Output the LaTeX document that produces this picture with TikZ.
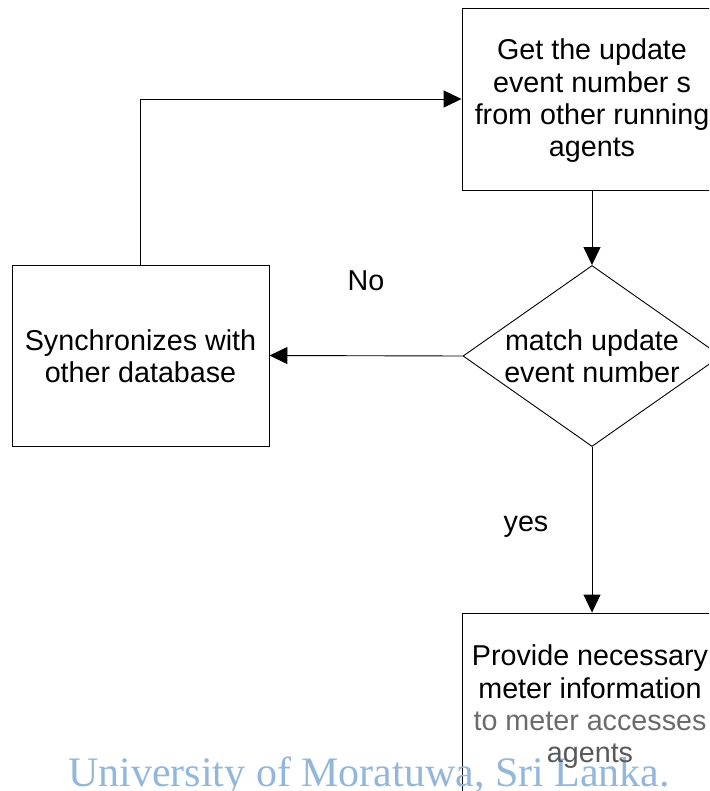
\documentclass[tikz,border=0pt]{standalone}
\usepackage{fontspec}
\setmainfont{Liberation Sans}
\newfontfamily\wmfont{Liberation Serif}
\usetikzlibrary{shapes.geometric,arrows.meta}
\definecolor{wmblue}{HTML}{93B7DC}
\tikzset{
  x=1pt, y=-1pt,
  every node/.style={font=\fontsize{28.7}{32.3}\selectfont, align=center},
  procbox/.style={draw, line width=0.9pt, inner sep=0pt, minimum width=#1},
  flow/.style={line width=0.9pt, -{Triangle[length=18pt,width=17pt]}},
  plainline/.style={line width=0.9pt}
}
\begin{document}
\begin{tikzpicture}
\useasboundingbox (0,0) rectangle (709,791);
\clip (0,0) rectangle (709,791);
\fill[white] (0,0) rectangle (709,791);

% process boxes and decision
\node[procbox=260pt, minimum height=182pt] (get) at (592,99) {};
\node at (592,101) {Get the update\\event number s\\from other running\\agents};

\node[draw, diamond, line width=0.9pt, inner sep=0pt, minimum width=258pt, minimum height=181pt] (match) at (592,356) {};
\node at (592,356) {match update\\event number};

\node[procbox=257pt, minimum height=181pt] (sync) at (140.5,355.5) {};
\node at (140.5,356) {Synchronizes with\\other database};

\node[procbox=260pt, minimum height=182pt] (provide) at (592,704) {};

% watermark
\node[font=\wmfont\fontsize{42}{44}\selectfont, text=wmblue, anchor=base west, inner sep=0pt] (wm) at (68,786) {University of Moratuwa, Sri Lanka.};

\node at (590,707) {Provide necessary\\meter information\\\textcolor{black!58}{to meter accesses}\\\textcolor{black!65}{agents}};

% connectors
\draw[flow] (get.south) -- (match.north);
\draw[flow] (match.west) -- (sync.east);
\draw[flow] (match.south) -- (provide.north);
\coordinate (corner) at (140,99);
\draw[plainline] (sync.north -| corner) -- (corner);
\draw[flow] (corner) -- (corner -| get.west);

% branch labels
\node (no) at (366,281) {No};
\node (yes) at (526,527) {yes};
\end{tikzpicture}
\end{document}
